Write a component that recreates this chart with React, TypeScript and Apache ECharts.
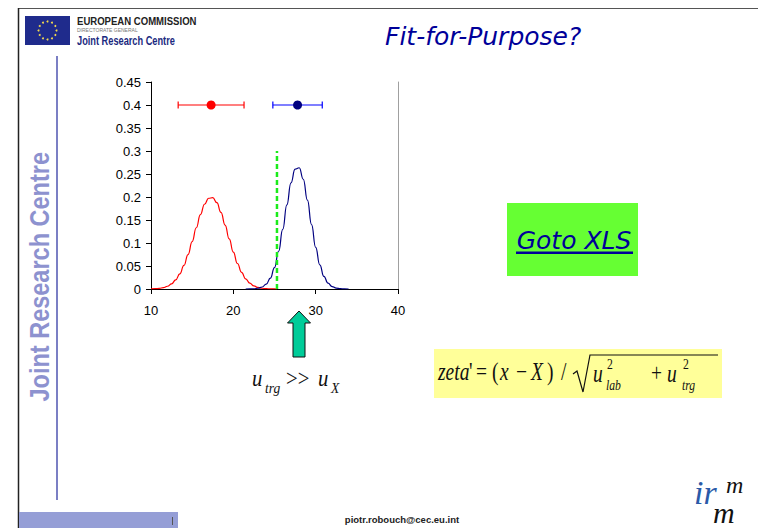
import React, { useEffect, useRef } from "react";
import * as echarts from "echarts";

// ---- data ----
const xMin = 10;
const xMax = 40;
const xStep = 10;
const yMin = 0;
const yMax = 0.45;
const yStep = 0.05;

const redCurveX = [10, 10.5, 11, 11.5, 12, 12.5, 13, 13.5, 14, 14.5, 15, 15.5, 16, 16.5, 17, 17.5, 18, 18.5, 19, 19.5, 20, 20.5, 21, 21.5, 22, 22.5, 23, 23.5, 24, 24.5, 25, 25.3];
const redCurveY = [0.0003, 0.0006, 0.0014, 0.003, 0.006, 0.0112, 0.0198, 0.0328, 0.0512, 0.0749, 0.103, 0.1331, 0.1615, 0.1842, 0.1973, 0.1985, 0.1877, 0.1666, 0.139, 0.1089, 0.0802, 0.0554, 0.036, 0.022, 0.0126, 0.0068, 0.0034, 0.0016, 0.0007, 0.0003, 0.0001, 0];

const blueCurveX = [21.5, 22, 22.5, 23, 23.5, 24, 24.5, 25, 25.5, 26, 26.5, 27, 27.5, 28, 28.5, 29, 29.5, 30, 30.5, 31, 31.5, 32, 32.5, 33, 33.5, 34];
const blueCurveY = [0, 0.0002, 0.0005, 0.0016, 0.0044, 0.0107, 0.0236, 0.0466, 0.0821, 0.1295, 0.1827, 0.2307, 0.2607, 0.2636, 0.2385, 0.1931, 0.14, 0.0907, 0.0526, 0.0273, 0.0127, 0.0053, 0.002, 0.0007, 0.0002, 0];

// [mean, level, low, high]
const redEstimate = [17.3, 0.4, 13.3, 21.3];
const blueEstimate = [27.8, 0.4, 24.8, 30.8];

const targetX = [25.3, 25.3];
const targetY = [0, 0.3];

const SERIF = "'Liberation Serif', 'Times New Roman', serif";
const SANS = "'Liberation Sans', Arial, sans-serif";
const COMIC = "'Comic Sans MS', 'DejaVu Sans', sans-serif";

function tok(text: string, x: number, baseline: number, size: number, o: any = {}) {
  const st: any = {
    text,
    fill: o.color || "#111",
    fontSize: size,
    fontFamily: o.family || SERIF,
    fontStyle: o.italic ? "italic" : "normal",
    fontWeight: o.bold ? "bold" : "normal",
    align: o.align || "left",
    verticalAlign: "middle",
  };
  if (o.lh) st.lineHeight = o.lh;
  return {
    type: "text",
    x,
    y: baseline - 0.34 * size,
    scaleX: o.sx || 1,
    silent: true,
    z: 10,
    style: st,
  };
}

function errorBarSeries(name: string, est: number[], lineColor: string, dotColor: string) {
  return {
    name,
    type: "custom",
    data: [est],
    encode: { x: [0, 2, 3], y: 1 },
    z: 5,
    renderItem: (_p: any, api: any) => {
      const y = api.value(1);
      const c = api.coord([api.value(0), y]);
      const lo = api.coord([api.value(2), y]);
      const hi = api.coord([api.value(3), y]);
      const st = { stroke: lineColor, lineWidth: 1.2 };
      return {
        type: "group",
        children: [
          { type: "line", shape: { x1: lo[0], y1: lo[1], x2: hi[0], y2: hi[1] }, style: st },
          { type: "line", shape: { x1: lo[0], y1: lo[1] - 3.5, x2: lo[0], y2: lo[1] + 3.5 }, style: st },
          { type: "line", shape: { x1: hi[0], y1: hi[1] - 3.5, x2: hi[0], y2: hi[1] + 3.5 }, style: st },
          { type: "circle", shape: { cx: c[0], cy: c[1], r: 4.5 }, style: { fill: dotColor } },
        ],
      };
    },
  };
}

function buildGraphics() {
  const g: any[] = [];
  // frame lines
  g.push({ type: "line", silent: true, shape: { x1: 18, y1: 8.5, x2: 758, y2: 8.5 }, style: { stroke: "#555", lineWidth: 1.2 } });
  g.push({ type: "line", silent: true, shape: { x1: 18.5, y1: 8, x2: 18.5, y2: 528 }, style: { stroke: "#222", lineWidth: 1.5 } });
  // EU flag
  g.push({ type: "rect", silent: true, shape: { x: 25, y: 16, width: 45, height: 29 }, style: { fill: "#1f2b8c" } });
  for (let i = 0; i < 12; i++) {
    const a = (i / 12) * Math.PI * 2;
    g.push({ type: "circle", silent: true, shape: { cx: 47.5 + 9 * Math.cos(a), cy: 30.5 + 9 * Math.sin(a), r: 1 }, style: { fill: "#f2d94e" } });
  }
  g.push(tok("EUROPEAN COMMISSION", 77, 25, 11, { family: SANS, bold: true, color: "#222", sx: 0.87 }));
  g.push(tok("DIRECTORATE GENERAL", 77, 32, 5, { family: SANS, color: "#777" }));
  g.push(tok("Joint Research Centre", 77, 45, 12, { family: SANS, bold: true, color: "#1b2a80", sx: 0.77 }));
  // title
  g.push(tok("Fit-for-Purpose?", 385, 45, 25, { family: COMIC, italic: true, color: "#000099" }));
  // left vertical line + rotated text
  g.push({ type: "line", silent: true, shape: { x1: 57, y1: 56, x2: 57, y2: 500 }, style: { stroke: "#7b7fc4", lineWidth: 2 } });
  g.push({
    type: "text", silent: true, x: 39, y: 152, rotation: Math.PI / 2, scaleX: 0.84,
    style: { text: "Joint Research Centre", fill: "#8d92cf", fontSize: 28, fontFamily: SANS, fontWeight: "bold", align: "right", verticalAlign: "middle" },
  });
  // Goto XLS box
  g.push({ type: "rect", silent: true, shape: { x: 507, y: 203, width: 131, height: 73 }, style: { fill: "#66ff33" } });
  g.push(tok("Goto XLS", 574, 249, 25, { family: COMIC, italic: true, color: "#000099", align: "center" }));
  g.push({ type: "rect", silent: true, shape: { x: 516, y: 251.5, width: 117, height: 2.5 }, style: { fill: "#000099" } });
  // arrow
  g.push({
    type: "polygon", silent: true,
    shape: { points: [[299, 311], [310.5, 323], [305, 323], [305, 357], [293, 357], [293, 323], [287.5, 323]] },
    style: { fill: "#00cc99", stroke: "#111", lineWidth: 1 },
  });
  // u_trg >> u_X
  g.push(tok("u", 252, 386, 23, { italic: true, sx: 0.9 }));
  g.push(tok("trg", 265, 393, 15, { italic: true, sx: 0.9 }));
  g.push(tok(">>", 286, 386, 23, { sx: 0.9 }));
  g.push(tok("u", 318, 386, 23, { italic: true, sx: 0.9 }));
  g.push(tok("X", 331, 393, 15, { italic: true, sx: 0.9 }));
  // formula box
  g.push({ type: "rect", silent: true, shape: { x: 434, y: 349, width: 288, height: 49 }, style: { fill: "#ffff99" } });
  const F = 25;
  const S = 0.78;
  g.push(tok("zeta", 438, 380, F, { italic: true, sx: S }));
  g.push(tok("'", 469, 380, F, { sx: S }));
  g.push(tok("=", 476, 380, F, { sx: S }));
  g.push(tok("(", 492, 380, F, { sx: S }));
  g.push(tok("x", 500, 380, F, { italic: true, sx: S }));
  g.push(tok("\u2212", 516, 380, F, { sx: S }));
  g.push(tok("X", 531, 380, F, { italic: true, sx: S }));
  g.push(tok(")", 547, 380, F, { sx: S }));
  g.push(tok("/", 561, 380, F, { sx: S }));
  g.push({
    type: "polyline", silent: true,
    shape: { points: [[573, 374], [577, 371], [583, 392], [590, 355], [718, 355]] },
    style: { stroke: "#111", lineWidth: 1.2, fill: null },
  });
  g.push(tok("u", 593, 382, F, { italic: true, sx: S }));
  g.push(tok("2", 607, 369, 15, { sx: S }));
  g.push(tok("lab", 606, 390, 15, { italic: true, sx: S }));
  g.push(tok("+", 651, 381, F, { sx: S }));
  g.push(tok("u", 667, 382, F, { italic: true, sx: S }));
  g.push(tok("2", 683, 369, 15, { sx: S }));
  g.push(tok("trg", 682, 390, 15, { italic: true, sx: S }));
  // footer
  g.push({ type: "rect", silent: true, shape: { x: 19, y: 512, width: 159, height: 16 }, style: { fill: "#959ed6" } });
  g.push({ type: "line", silent: true, shape: { x1: 172.5, y1: 517, x2: 172.5, y2: 525 }, style: { stroke: "#555", lineWidth: 1 } });
  g.push(tok("piotr.robouch@cec.eu.int", 402, 523, 9.5, { family: SANS, bold: true, color: "#222", align: "center" }));
  // irmm logo
  g.push(tok("ir", 694, 504, 34, { italic: true, color: "#2a5aa8", lh: 20 }));
  g.push(tok("m", 726, 493, 24, { italic: true, color: "#111", lh: 14 }));
  g.push(tok("m", 713, 523, 30, { italic: true, color: "#111", lh: 14 }));
  return g;
}

export default function App() {
  const ref = useRef<HTMLDivElement>(null);
  useEffect(() => {
    if (!ref.current) return;
    const chart = echarts.init(ref.current, null, { renderer: "svg" });
    const axisText = { color: "#000", fontSize: 13, fontFamily: SANS };
    chart.setOption({
      animation: false,
      backgroundColor: "#fff",
      grid: { left: 151, top: 82, width: 247, height: 207, containLabel: false },
      xAxis: {
        type: "value", min: xMin, max: xMax, interval: xStep,
        axisLine: { show: true, onZero: false, lineStyle: { color: "#000", width: 1 } },
        axisTick: { show: true, inside: false, length: 5, lineStyle: { color: "#000" } },
        axisLabel: { ...axisText, margin: 15 },
        splitLine: { show: false },
      },
      yAxis: [
        {
          type: "value", min: yMin, max: yMax, interval: yStep,
          axisLine: { show: true, lineStyle: { color: "#000", width: 1 } },
          axisTick: { show: true, inside: false, length: 5, lineStyle: { color: "#000" } },
          axisLabel: { ...axisText, margin: 10 },
          splitLine: { show: false },
        },
        {
          type: "value", min: yMin, max: yMax, interval: yStep, position: "right",
          axisLine: { show: true, lineStyle: { color: "#a0a0a0", width: 1 } },
          axisTick: { show: false }, axisLabel: { show: false }, splitLine: { show: false },
        },
      ],
      series: [
        {
          name: "red", type: "line", data: redCurveX.map((x, i) => [x, redCurveY[i]]),
          smooth: true, smoothMonotone: "x", showSymbol: false, symbol: "none",
          lineStyle: { color: "#ff0000", width: 1.2 }, z: 2,
        },
        {
          name: "blue", type: "line", data: blueCurveX.map((x, i) => [x, blueCurveY[i]]),
          smooth: true, smoothMonotone: "x", showSymbol: false, symbol: "none",
          lineStyle: { color: "#000080", width: 1.2 }, z: 3,
        },
        {
          name: "target", type: "line", data: targetX.map((x, i) => [x, targetY[i]]),
          showSymbol: false, symbol: "none",
          lineStyle: { color: "#1aeb1a", width: 2.5, type: [5, 3] }, z: 4,
        },
        errorBarSeries("redEst", redEstimate, "#ff0000", "#ff0000"),
        errorBarSeries("blueEst", blueEstimate, "#0000ff", "#000080"),
      ],
      graphic: buildGraphics(),
    });
    return () => chart.dispose();
  }, []);
  return (
    <div style={{ position: "fixed", left: 0, top: 0, width: 758, height: 528, background: "#fff" }}>
      <div ref={ref} style={{ width: 758, height: 528 }} />
    </div>
  );
}
